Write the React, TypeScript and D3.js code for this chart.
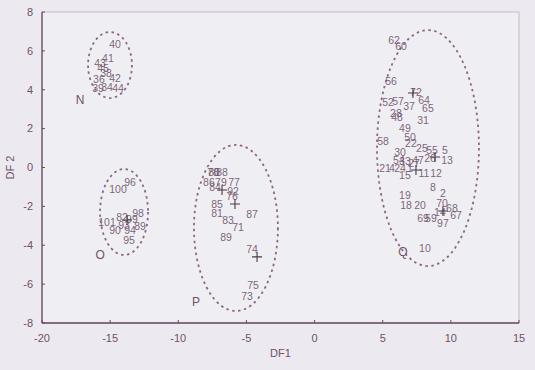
import React from 'react';
import * as d3 from 'd3';

// point labels: [label, DF1, DF2]
const groupN: [string, number, number][] = [
  ['40', -14.64, 6.35], ['41', -15.16, 5.63], ['43', -15.74, 5.38], ['45', -15.52, 5.12],
  ['38', -15.3, 4.86], ['36', -15.82, 4.55], ['42', -14.64, 4.6], ['39', -15.89, 4.09],
  ['34', -15.23, 4.14], ['44', -14.42, 4.09],
];
const groupO: [string, number, number][] = [
  ['96', -13.54, -0.75], ['100', -14.42, -1.11], ['98', -12.95, -2.34], ['82', -14.13, -2.55],
  ['101', -15.23, -2.8], ['89', -12.81, -3.01], ['90', -14.64, -3.21], ['94', -13.54, -3.21],
  ['95', -13.61, -3.73], ['93', -13.98, -2.96], ['99', -13.4, -2.65],
];
const groupP: [string, number, number][] = [
  ['78', -7.45, -0.23], ['80', -7.38, -0.23], ['88', -6.79, -0.23], ['86', -7.75, -0.75],
  ['79', -6.87, -0.75], ['77', -5.91, -0.75], ['84', -7.3, -1.0], ['92', -5.98, -1.21],
  ['76', -6.06, -1.47], ['85', -7.16, -1.88], ['81', -7.16, -2.34], ['87', -4.59, -2.39],
  ['83', -6.35, -2.7], ['71', -5.62, -3.06], ['89', -6.5, -3.57], ['74', -4.59, -4.19],
  ['75', -4.52, -6.04], ['73', -4.96, -6.61],
];
const groupQ: [string, number, number][] = [
  ['62', 5.83, 6.56], ['60', 6.34, 6.25], ['56', 5.61, 4.45], ['72', 7.44, 3.88],
  ['52', 5.39, 3.37], ['57', 6.12, 3.42], ['37', 6.93, 3.16], ['64', 8.03, 3.47],
  ['65', 8.32, 3.06], ['28', 5.97, 2.8], ['48', 6.05, 2.6], ['31', 7.96, 2.44],
  ['49', 6.63, 2.03], ['58', 5.02, 1.36], ['50', 7.0, 1.57], ['22', 7.07, 1.26],
  ['30', 6.27, 0.8], ['25', 7.88, 1.0], ['55', 8.62, 0.9], ['5', 9.57, 0.9],
  ['13', 9.72, 0.39], ['26', 8.47, 0.49], ['54', 6.19, 0.39], ['33', 6.63, 0.34],
  ['47', 7.59, 0.39], ['27', 7.3, 0.23], ['21', 5.17, -0.03], ['4', 5.68, -0.03],
  ['24', 6.27, -0.03], ['1', 7.0, -0.03], ['11', 8.03, -0.28], ['12', 8.91, -0.28],
  ['15', 6.63, -0.42], ['8', 8.69, -1.0], ['2', 9.42, -1.31], ['19', 6.63, -1.41],
  ['18', 6.71, -1.93], ['20', 7.74, -1.93], ['70', 9.35, -1.83], ['68', 10.08, -2.08],
  ['14', 9.2, -2.29], ['67', 10.38, -2.44], ['69', 7.96, -2.6], ['59', 8.54, -2.6],
  ['97', 9.42, -2.86], ['10', 8.1, -4.14],
];
// "+" marks
const centroids: [number, number][] = [
  [-13.76, -2.7], [-6.79, -1.16], [-5.84, -1.88], [-4.22, -4.6],
  [7.22, 3.83], [8.84, 0.54], [7.44, -0.13], [9.42, -2.24],
];
// dotted group ellipses: [name, cx, cy, rx, ry, nameX, nameY]
const groups: [string, number, number, number, number, number, number][] = [
  ['N', -15.01, 5.27, 1.61, 1.7, -17.21, 3.47],
  ['O', -13.98, -2.29, 1.76, 2.21, -15.74, -4.5],
  ['P', -5.77, -3.11, 3.08, 4.27, -8.7, -6.92],
  ['Q', 8.32, 1.0, 3.74, 6.07, 6.49, -4.35],
];
const xTicks = [-20, -15, -10, -5, 0, 5, 10, 15];
const yTicks = [8, 6, 4, 2, 0, -2, -4, -6, -8];

const W = 535, H = 370;
const left = 42, right = 519, top = 12, bottom = 323;
const font = '"Liberation Sans Narrow", "Liberation Sans", Arial, sans-serif';
const ink = '#6e5269';

export default function App() {
  const x = d3.scaleLinear().domain([-20, 15]).range([left, right]);
  const y = d3.scaleLinear().domain([-8, 8]).range([bottom, top]);
  const all = [...groupN, ...groupO, ...groupP, ...groupQ];

  return (
    <svg width={W} height={H} style={{ position: 'absolute', left: 0, top: 0, background: '#eceaf0' }}
      fontFamily={font}>
      <rect x={left} y={top} width={right - left} height={bottom - top} fill="#efeef3"
        stroke="#c9b8c7" strokeWidth={1} />
      <line x1={left} x2={left} y1={top} y2={bottom} stroke="#6a4a64" strokeWidth={1.3} />
      <line x1={left} x2={right} y1={bottom} y2={bottom} stroke="#6a4a64" strokeWidth={1.3} />

      {yTicks.map(t => (
        <g key={'y' + t}>
          <line x1={left} x2={left + 3} y1={y(t)} y2={y(t)} stroke="#6a4a64" />
          <text x={left - 9} y={y(t)} dy="0.35em" textAnchor="end" fontSize={11} fill={ink}>{t}</text>
        </g>
      ))}
      {xTicks.map(t => (
        <g key={'x' + t}>
          <line x1={x(t)} x2={x(t)} y1={bottom} y2={bottom - 3} stroke="#6a4a64" />
          <text x={x(t)} y={bottom + 15} dy="0.35em" textAnchor="middle" fontSize={11} fill={ink}>{t}</text>
        </g>
      ))}
      <text x={(left + right) / 2} y={357} textAnchor="middle" fontSize={11} fill={ink}>DF1</text>
      <text transform={`translate(14,${(top + bottom) / 2}) rotate(-90)`} textAnchor="middle"
        fontSize={11} fill={ink}>DF 2</text>

      {groups.map(([name, cx, cy, rx, ry, nx, ny]) => (
        <g key={name}>
          <ellipse cx={x(cx)} cy={y(cy)} rx={x(cx + rx) - x(cx)} ry={y(cy) - y(cy + ry)}
            fill="none" stroke="#8c6884" strokeWidth={1.8} strokeDasharray="2.5,3.5" />
          <text x={x(nx)} y={y(ny)} dy="0.35em" textAnchor="middle" fontSize={12} fill={ink}>{name}</text>
        </g>
      ))}

      {all.map(([lab, dx, dy], i) => (
        <text key={i} x={x(dx)} y={y(dy)} dy="0.35em" textAnchor="middle" fontSize={10.5}
          fill={ink} fillOpacity={0.9}>{lab}</text>
      ))}
      {centroids.map(([cx, cy], i) => (
        <path key={'c' + i} d={`M${x(cx) - 5},${y(cy)}h10M${x(cx)},${y(cy) - 5}v10`}
          stroke="#4a3846" strokeWidth={1.1} />
      ))}
    </svg>
  );
}
